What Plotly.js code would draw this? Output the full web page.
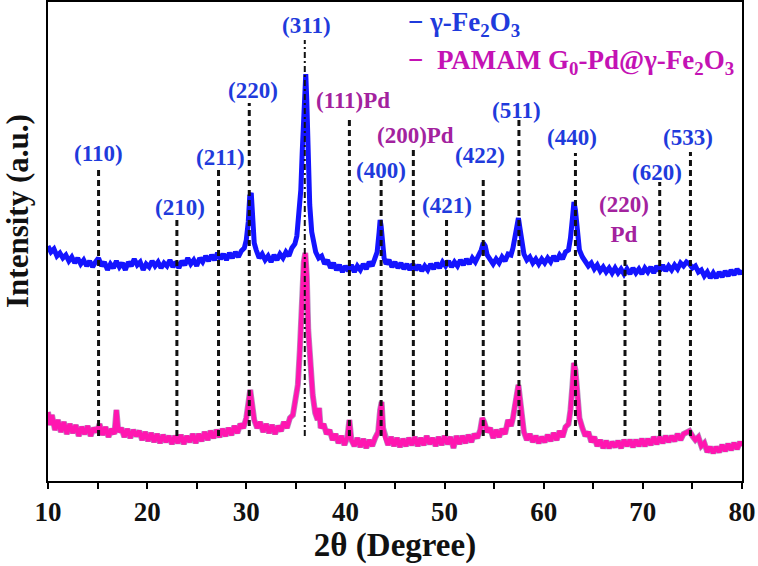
<!DOCTYPE html>
<html>
<head>
<meta charset="utf-8">
<script src="https://cdn.plot.ly/plotly-3.0.1.min.js"></script>
<style>html,body{margin:0;padding:0;background:#fff;}#chart{width:758px;height:566px;}</style>
</head>
<body>
<div id="chart"></div>
<script>
// ---- data: gamma-Fe2O3 pattern ----
const twoTheta_Fe2O3 = [10.0,10.3,10.6,10.9,11.2,11.5,11.8,12.1,12.4,12.7,13.0,13.3,13.6,13.9,14.2,14.5,14.8,15.1,15.4,15.7,16.0,16.3,16.6,16.9,17.2,17.5,17.8,18.1,18.4,18.7,19.0,19.3,19.6,19.9,20.2,20.5,20.8,21.1,21.4,21.7,22.0,22.3,22.6,22.9,23.2,23.5,23.8,24.1,24.4,24.7,25.0,25.3,25.6,25.9,26.2,26.5,26.8,27.1,27.4,27.7,28.0,28.3,28.6,28.9,29.2,29.5,29.8,30.0,30.2,30.35,30.5,30.65,30.8,31.0,31.3,31.6,31.9,32.2,32.5,32.8,33.1,33.4,33.7,34.0,34.3,34.6,34.9,35.1,35.3,35.5,35.65,35.8,35.9,36.0,36.1,36.25,36.4,36.6,36.8,37.0,37.3,37.6,37.9,38.2,38.5,38.8,39.1,39.4,39.7,40.0,40.3,40.6,40.9,41.2,41.5,41.8,42.1,42.4,42.7,43.0,43.2,43.4,43.5,43.6,43.75,43.9,44.1,44.4,44.7,45.0,45.3,45.6,45.9,46.2,46.5,46.8,47.1,47.4,47.7,48.0,48.3,48.6,48.9,49.2,49.5,49.8,50.1,50.4,50.7,51.0,51.3,51.6,51.9,52.2,52.5,52.8,53.1,53.4,53.7,53.9,54.1,54.3,54.6,54.9,55.2,55.5,55.8,56.1,56.4,56.7,56.9,57.1,57.3,57.45,57.6,57.8,58.0,58.3,58.6,58.9,59.2,59.5,59.8,60.1,60.4,60.7,61.0,61.3,61.6,61.9,62.2,62.5,62.7,62.9,63.05,63.2,63.4,63.6,63.9,64.2,64.5,64.8,65.1,65.4,65.7,66.0,66.3,66.6,66.9,67.2,67.5,67.8,68.1,68.4,68.7,69.0,69.3,69.6,69.9,70.2,70.5,70.8,71.1,71.4,71.7,72.0,72.3,72.6,72.9,73.2,73.5,73.8,74.1,74.4,74.7,75.0,75.3,75.6,75.9,76.2,76.5,76.8,77.1,77.4,77.7,78.0,78.3,78.6,78.9,79.2,79.5,79.8,80.0];
const intensity_Fe2O3 = [235,229,232,225,228,223,226,220,224,218,223,217,221,215,220,214,219,223,215,219,211,217,213,220,214,218,211,219,215,222,216,219,211,217,214,220,215,219,213,218,215,221,214,219,213,220,216,223,217,221,215,223,219,225,220,226,221,228,222,227,221,228,223,229,224,230,233,241,259,285,288,261,238,231,223,227,221,225,219,226,221,227,223,229,225,233,237,245,266,291,331,371,403,407,381,321,276,249,235,229,223,225,217,221,213,218,211,216,209,215,210,216,209,215,211,217,212,219,215,223,229,249,261,255,233,223,217,221,214,219,213,218,212,217,211,217,211,216,210,215,211,217,212,218,213,219,215,220,214,219,215,221,216,222,217,223,219,225,231,238,235,226,221,217,222,218,224,220,227,226,233,243,259,263,253,236,227,221,224,218,222,217,222,218,223,219,225,220,226,222,229,231,243,263,279,271,246,231,224,219,215,218,212,216,210,214,209,213,208,213,208,212,207,212,207,213,208,212,207,213,209,214,208,215,210,216,210,215,211,216,212,218,215,219,217,213,215,209,211,205,209,203,208,203,209,204,210,205,211,206,212,207,211];

// ---- data: PAMAM G0-Pd@gamma-Fe2O3 pattern ----
const twoTheta_PdFe2O3 = [10.0,10.2,10.4,10.7,11.0,11.3,11.6,11.9,12.2,12.5,12.8,13.1,13.4,13.7,14.0,14.3,14.6,14.9,15.2,15.5,15.8,16.1,16.4,16.7,16.9,17.1,17.4,17.7,18.0,18.3,18.6,18.9,19.2,19.5,19.8,20.1,20.4,20.7,21.0,21.3,21.6,21.9,22.2,22.5,22.8,23.1,23.4,23.7,24.0,24.3,24.6,24.9,25.2,25.5,25.8,26.1,26.4,26.7,27.0,27.3,27.6,27.9,28.2,28.5,28.8,29.1,29.4,29.7,30.0,30.2,30.4,30.6,30.8,31.1,31.4,31.7,32.0,32.3,32.6,32.9,33.2,33.5,33.8,34.1,34.4,34.7,35.0,35.2,35.4,35.6,35.8,35.95,36.1,36.25,36.45,36.7,36.95,37.2,37.35,37.5,37.8,38.1,38.4,38.7,39.0,39.3,39.6,39.9,40.2,40.4,40.6,40.9,41.2,41.5,41.8,42.1,42.4,42.7,43.0,43.3,43.5,43.65,43.8,44.0,44.3,44.6,44.9,45.2,45.5,45.8,46.1,46.4,46.7,47.0,47.3,47.6,47.9,48.2,48.5,48.8,49.1,49.4,49.7,50.0,50.3,50.6,50.9,51.2,51.5,51.8,52.1,52.4,52.7,53.0,53.3,53.6,53.8,54.0,54.3,54.6,54.9,55.2,55.5,55.8,56.1,56.4,56.7,56.9,57.1,57.3,57.45,57.6,57.8,58.0,58.3,58.6,58.9,59.2,59.5,59.8,60.1,60.4,60.7,61.0,61.3,61.6,61.9,62.2,62.5,62.7,62.9,63.05,63.2,63.4,63.6,63.9,64.2,64.5,64.8,65.1,65.4,65.7,66.0,66.3,66.6,66.9,67.2,67.5,67.8,68.1,68.4,68.7,69.0,69.3,69.6,69.9,70.2,70.5,70.8,71.1,71.4,71.7,72.0,72.3,72.6,72.9,73.2,73.5,73.8,74.1,74.4,74.7,75.0,75.3,75.6,75.9,76.2,76.5,76.8,77.1,77.4,77.7,78.0,78.3,78.6,78.9,79.2,79.5,79.8,80.0];
const intensity_PdFe2O3 = [69,56,66,51,61,49,59,47,57,48,56,45,54,47,55,45,53,49,57,46,54,44,52,47,71,49,53,44,52,43,51,45,50,41,49,40,48,39,47,38,46,39,45,37,45,38,46,37,45,39,47,38,47,40,49,41,50,43,51,44,52,45,53,46,55,48,57,53,63,79,91,76,61,53,59,49,57,48,56,47,55,50,59,53,63,66,81,96,131,181,219,228,206,151,116,86,68,61,73,53,57,47,51,41,47,38,45,36,44,61,41,35,43,34,42,33,41,35,43,49,71,79,53,44,36,44,35,43,34,42,35,43,36,44,35,43,36,45,37,43,35,44,36,45,37,44,33,45,37,45,38,46,39,47,43,51,63,59,49,53,43,51,44,52,47,61,55,63,76,93,96,83,61,49,41,47,39,45,38,44,39,46,40,48,41,50,44,54,57,71,96,118,111,89,63,53,45,49,39,44,35,41,33,40,33,39,34,40,33,41,35,41,34,41,35,42,35,42,36,44,37,44,38,45,39,45,40,47,41,47,49,50,45,41,44,35,38,29,34,28,34,29,36,30,37,31,38,32,39,35];

// ---- reflections ----
const reflectionHKL = ['(110)','(210)','(211)','(220)','(311)','(111)Pd','(400)','(200)Pd','(421)','(422)','(511)','(440)','(220)<br>Pd','(620)','(533)'];
const reflectionPos = [15.1,23.0,27.2,30.3,35.9,40.4,43.6,46.85,50.2,53.9,57.5,63.2,68.2,71.7,74.8];
const reflectionIsPd = [false,false,false,false,false,true,false,true,false,false,false,false,true,false,false];

// ---- layout helpers (positions/styles only) ----
const lineTop = [313,261,313,378,441,363,301,334,264,301,361,328,224,299,329];
const lineBottom = 45;
const labelX = [15.05,23.3,27.35,30.7,36.1,40.75,43.6,47.1,50.25,53.6,57.3,62.85,68.1,71.4,74.55];
const labelY = [328,274,324,391,456,381,311,346,276,326,371,344,262,309,344];

const SERIF = "Liberation Serif, Times New Roman, Times, serif";
const BLUE_LINE = '#1414ff';
const PINK_LINE = '#ff16b0';
const BLUE_TXT = '#1f3bdc';
const PD_TXT = '#a3229e';

const traces = [
  {x: twoTheta_Fe2O3, y: intensity_Fe2O3, type: 'scatter', mode: 'lines',
   line: {color: BLUE_LINE, width: 5}, name: 'γ-Fe2O3', hoverinfo: 'skip'},
  {x: twoTheta_PdFe2O3, y: intensity_PdFe2O3, type: 'scatter', mode: 'lines',
   line: {color: '#6a1f80', width: 6}, opacity: 0.5, showlegend: false, hoverinfo: 'skip'},
  {x: twoTheta_PdFe2O3, y: intensity_PdFe2O3, type: 'scatter', mode: 'lines',
   line: {color: PINK_LINE, width: 4.5}, name: 'PAMAM G0-Pd@γ-Fe2O3', hoverinfo: 'skip'}
];

const shapes = reflectionPos.map((p, i) => ({
  type: 'line', xref: 'x', yref: 'y', x0: p, x1: p, y0: lineBottom, y1: lineTop[i],
  line: i === 4 ? {color: '#111', width: 2, dash: '6px,3px,2px,3px'}
                : {color: '#111', width: 3, dash: '6px,4px'}
}));

const annotations = reflectionHKL.map((t, i) => ({
  x: labelX[i], y: labelY[i], xref: 'x', yref: 'y', text: '<b>' + t + '</b>',
  showarrow: false, xanchor: 'center', yanchor: 'middle',
  font: {family: SERIF, size: 23, color: reflectionIsPd[i] ? PD_TXT : BLUE_TXT}
}));

annotations.push(
  {x: (406-48)/694, y: (481-24)/479, xref: 'paper', yref: 'paper', xanchor: 'left', yanchor: 'middle',
   showarrow: false, text: '<b>− γ-Fe<sub>2</sub>O<sub>3</sub></b>',
   font: {family: SERIF, size: 27, color: BLUE_TXT}},
  {x: (406-48)/694, y: (481-62)/479, xref: 'paper', yref: 'paper', xanchor: 'left', yanchor: 'middle',
   showarrow: false, text: '<b>−  PAMAM G<sub>0</sub>-Pd@γ-Fe<sub>2</sub>O<sub>3</sub></b>',
   font: {family: SERIF, size: 27, color: '#c412b4'}},
  {x: (18-48)/694, y: (481-211)/479, xref: 'paper', yref: 'paper', xanchor: 'center', yanchor: 'middle',
   showarrow: false, textangle: -90, text: '<b>Intensity (a.u.)</b>',
   font: {family: SERIF, size: 31, color: '#111'}}
);

const layout = {
  width: 758, height: 566,
  margin: {l: 48, r: 16, t: 2, b: 85},
  paper_bgcolor: '#fff', plot_bgcolor: '#fff',
  showlegend: false,
  font: {family: SERIF},
  xaxis: {
    range: [10, 80], dtick: 10, tick0: 10,
    ticks: 'outside', ticklen: 6, tickwidth: 2, tickcolor: '#000',
    minor: {dtick: 5, tick0: 10, ticks: 'outside', ticklen: 6, tickwidth: 2, tickcolor: '#000'},
    showline: true, linewidth: 2, linecolor: '#000', mirror: true,
    showgrid: false, zeroline: false,
    tickfont: {family: SERIF, size: 27, color: '#111', weight: 'bold'},
    title: {text: '<b>2θ (Degree)</b>', font: {family: SERIF, size: 33, color: '#111'}, standoff: 4}
  },
  yaxis: {
    range: [0, 479], showticklabels: false, ticks: '',
    showline: true, linewidth: 2, linecolor: '#000', mirror: true,
    showgrid: false, zeroline: false
  },
  shapes: shapes,
  annotations: annotations
};

Plotly.newPlot('chart', traces, layout, {staticPlot: true, displayModeBar: false});
</script>
</body>
</html>
